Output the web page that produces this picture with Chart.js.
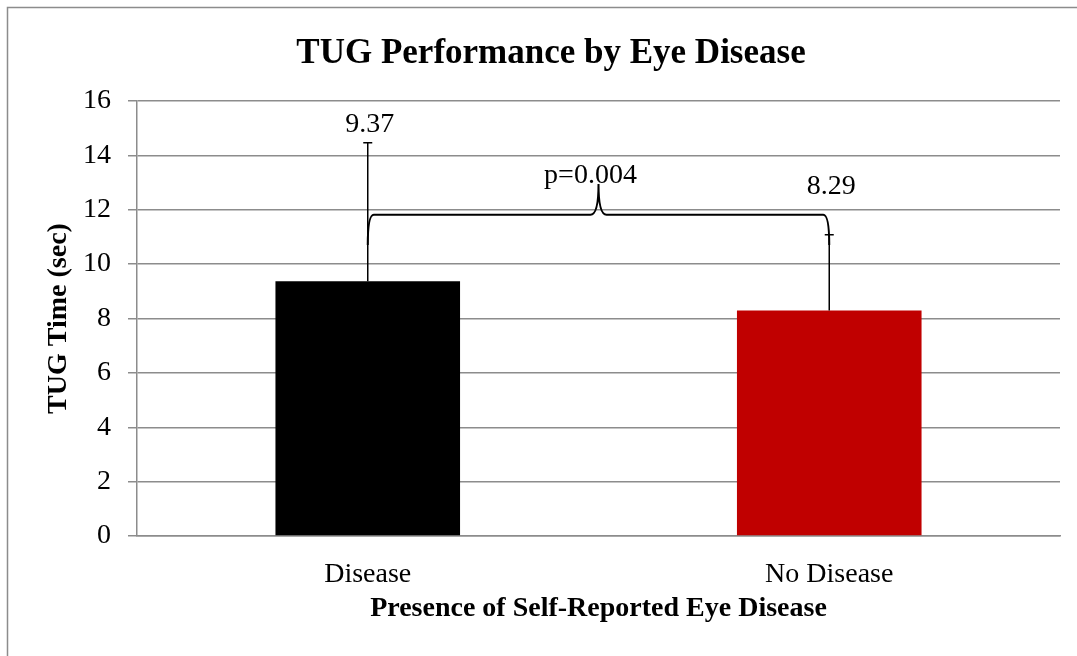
<!DOCTYPE html>
<html lang="en">

<head>
    <meta charset="utf-8">
    <style>
        body { margin: 0; background: #fff; }
        #wrap { width: 1077px; height: 656px; }
    </style>
</head>

<body>
    <div id="wrap">
        <canvas id="tugChart"></canvas>
    </div>
    <script src="https://cdn.jsdelivr.net/npm/chart.js"></script>
    <script>
        const categories = ['Disease', 'No Disease'];
        const meanTime = [9.37, 8.29];
        const errorPlus = [5.09, 2.79];
        const valueLabels = ['9.37', '8.29'];
        const barColors = ['#000000', '#c00000'];
        const yTicks = [0, 2, 4, 6, 8, 10, 12, 14, 16];
        const pLabel = 'p=0.004';

        const serif = '"Liberation Serif", "Times New Roman", serif';
        const gridGrey = '#8c8c8c';

        // frame round the whole picture
        const framePlugin = {
            id: 'frame',
            beforeDraw(chart) {
                const c = chart.ctx;
                c.save();
                c.strokeStyle = gridGrey;
                c.lineWidth = 1.5;
                c.strokeRect(7.5, 7.5, 1200, 800);
                c.restore();
            }
        };

        // error bars, brace and value labels
        const extrasPlugin = {
            id: 'extras',
            afterDatasetsDraw(chart, args, opts) {
                const c = chart.ctx;
                const y = chart.scales.y;
                const meta = chart.getDatasetMeta(0);
                c.save();
                c.strokeStyle = '#000';
                c.fillStyle = '#000';
                c.lineWidth = 1.5;

                const xs = meta.data.map(b => b.x);
                meta.data.forEach((bar, i) => {
                    const top = y.getPixelForValue(meanTime[i] + errorPlus[i]);
                    c.beginPath();
                    c.moveTo(bar.x, bar.y);
                    c.lineTo(bar.x, top);
                    c.moveTo(bar.x - 4.5, top);
                    c.lineTo(bar.x + 4.5, top);
                    c.stroke();
                });

                // brace between the two bars
                const b = opts.brace;
                const yL = y.getPixelForValue(b.level);
                const yE = y.getPixelForValue(b.end);
                const yP = y.getPixelForValue(b.peak);
                const x1 = xs[0], x2 = xs[1], xm = (x1 + x2) / 2;
                c.lineWidth = 2;
                c.beginPath();
                c.moveTo(x1, yE);
                c.quadraticCurveTo(x1, yL, x1 + 6, yL);
                c.lineTo(xm - 8, yL);
                c.quadraticCurveTo(xm, yL, xm, yP);
                c.quadraticCurveTo(xm, yL, xm + 8, yL);
                c.lineTo(x2 - 6, yL);
                c.quadraticCurveTo(x2, yL, x2, yE);
                c.stroke();

                c.font = '28px ' + serif;
                c.textAlign = 'center';
                c.textBaseline = 'middle';
                meta.data.forEach((bar, i) => {
                    const errTop = y.getPixelForValue(meanTime[i] + errorPlus[i]);
                    const anchor = Math.min(errTop, yL);
                    c.fillText(valueLabels[i], bar.x + 2, anchor - opts.labelGap[i]);
                });
                c.textBaseline = 'alphabetic';
                c.fillText(pLabel, xm - 8, yP - 1);
                c.restore();
            }
        };

        const ctx = document.getElementById('tugChart');
        new Chart(ctx, {
            type: 'bar',
            data: {
                labels: categories,
                datasets: [{
                    label: 'TUG Time',
                    data: meanTime,
                    backgroundColor: barColors,
                    borderWidth: 0,
                    barPercentage: 0.4,
                    categoryPercentage: 1.0
                }]
            },
            options: {
                responsive: true,
                maintainAspectRatio: false,
                animation: false,
                layout: { padding: { left: 42, right: 17, top: 0, bottom: 0 } },
                plugins: {
                    legend: { display: false },
                    tooltip: { enabled: false },
                    title: {
                        display: true,
                        text: 'TUG Performance by Eye Disease',
                        color: '#000',
                        font: { family: serif, size: 35, weight: 'bold' },
                        padding: { top: 33, bottom: 26 }
                    },
                    extras: {
                        brace: { level: 11.82, end: 10.7, peak: 12.95 },
                        labelGap: [18, 28]
                    }
                },
                scales: {
                    x: {
                        grid: { display: false },
                        border: { display: true, color: gridGrey, width: 1.5 },
                        ticks: {
                            color: '#000',
                            font: { family: serif, size: 28 },
                            padding: 14
                        },
                        title: {
                            display: true,
                            text: 'Presence of Self-Reported Eye Disease',
                            color: '#000',
                            font: { family: serif, size: 28, weight: 'bold' },
                            padding: { top: 30, bottom: 30 }
                        },
                        afterFit(scale) { scale.height = 120; }
                    },
                    y: {
                        min: 0,
                        max: 16,
                        afterBuildTicks(scale) {
                            scale.ticks = yTicks.map(v => ({ value: v }));
                        },
                        grid: {
                            color: gridGrey,
                            lineWidth: 1.5,
                            drawTicks: true,
                            tickLength: 9
                        },
                        border: { display: true, color: gridGrey, width: 1.5 },
                        ticks: {
                            color: '#000',
                            font: { family: serif, size: 28 },
                            padding: 17
                        },
                        title: {
                            display: true,
                            text: 'TUG Time (sec)',
                            color: '#000',
                            font: { family: serif, size: 28, weight: 'bold' },
                            padding: 0
                        },
                        afterFit(scale) { scale.width = 95; }
                    }
                }
            },
            plugins: [framePlugin, extrasPlugin]
        });
    </script>
</body>

</html>
